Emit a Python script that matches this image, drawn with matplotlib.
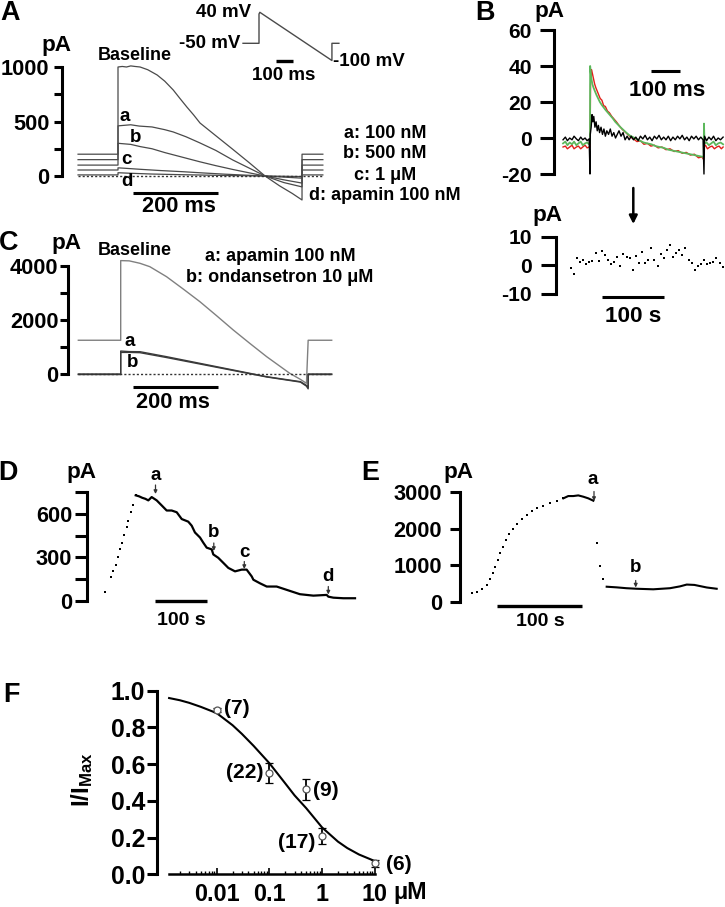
import numpy as np
import matplotlib
matplotlib.use('Agg')
import matplotlib.pyplot as plt
from matplotlib.patches import FancyArrowPatch
from matplotlib.ticker import FormatStrFormatter

plt.rcParams.update({
    'font.family': ['Liberation Sans', 'DejaVu Sans'],
    'font.weight': 'bold',
    'axes.unicode_minus': False,
    'mathtext.fontset': 'custom',
    'mathtext.rm': 'Liberation Sans:bold',
    'mathtext.bf': 'Liberation Sans:bold',
    'mathtext.it': 'Liberation Sans:bold',
})

# ---------------- DATA ----------------
# Panel A: ramp currents (time ms, current pA)
A_BASE = [(-94, 200), (0, 200), (0, 1000), (10, 1005), (20, 1000), (30, 1010), (40, 1005), (52, 1000),
          (70, 975), (92, 927), (110, 870), (130, 789), (145, 715), (162, 633), (178, 560), (193, 486),
          (230, 370), (270, 245), (310, 118), (346, 0), (380, -90), (410, -160), (433, -220),
          (433, 200), (482, 200)]
A_A = [(-94, 150), (0, 150), (0, 460), (15, 465), (30, 470), (50, 458), (80, 450), (110, 425), (130, 404),
       (160, 360), (193, 303), (230, 235), (270, 147), (310, 70), (346, 0), (390, -60), (433, -100),
       (433, 150), (482, 150)]
A_B = [(-94, 100), (0, 100), (0, 300), (15, 295), (30, 290), (52, 270), (80, 250), (110, 215), (150, 174),
       (193, 130), (230, 95), (270, 60), (310, 28), (346, 0), (390, -35), (433, -65), (433, 100), (482, 100)]
A_C = [(-94, 55), (0, 55), (0, 75), (20, 70), (50, 62), (100, 50), (150, 40), (200, 28), (250, 17),
       (300, 8), (346, 0), (390, -10), (433, -20), (433, 55), (482, 55)]
A_D = [(-94, 10), (0, 10), (0, 30), (30, 25), (80, 18), (150, 12), (250, 5), (346, 0), (433, -5),
       (433, 10), (482, 10)]
A_LEGEND = ['a: 100 nM', 'b: 500 nM', 'c: 1 \u03bcM', 'd: apamin 100 nM']
# voltage protocol (ms, mV)
PROTOCOL = [(-94, -50), (0, -50), (0, 35), (5, 40), (429, -100), (429, -50), (470, -50)]

# Panel B: difference currents (ms, pA)
B_RED = [(-93, -5), (-85, -4.5), (-78, -6), (-70, -5), (-62, -4), (-55, -6), (-47, -5), (-40, -4.5),
         (-32, -6), (-25, -5), (-17, -4), (-10, -5.5), (-3, -5), (0, -5), (2, 30), (5, 38), (8, 36),
         (12, 33), (16, 30), (20, 28), (25, 26), (30, 24), (35, 22), (41, 21), (47, 18), (53, 17.5),
         (60, 15), (67, 14), (75, 12), (83, 10.5), (91, 9), (100, 7), (110, 5), (120, 3.5), (130, 2),
         (140, 0.5), (150, -0.5), (162, -2), (174, -1.5), (186, -3.5), (198, -3), (210, -4.5),
         (222, -4), (235, -5.5), (248, -5), (262, -6.5), (276, -6), (290, -7.5), (304, -7),
         (318, -8.5), (332, -8), (346, -9.5), (360, -9), (374, -11), (386, -10.5), (392, -12),
         (393, -5), (398, -4), (405, -6), (413, -5), (421, -4.5), (429, -6), (437, -5), (445, -4.5),
         (453, -6), (459, -5)]
B_GREEN = [(-93, -3), (-85, -2), (-78, -4), (-70, -2.5), (-62, -3.5), (-55, -2), (-47, -4), (-40, -3),
           (-32, -2), (-25, -4), (-17, -3), (-10, -2.5), (-3, -3.5), (0, -3), (0.5, 40), (4, 34),
           (8, 30), (12, 28), (17, 26), (22, 24), (28, 22), (34, 20), (40, 18.5), (47, 17), (54, 15.5),
           (62, 14), (70, 12.5), (78, 11), (87, 9), (96, 7.5), (105, 6), (115, 4.5), (125, 3),
           (136, 1.5), (148, 0.5), (160, -0.5), (172, -1.5), (185, -2.5), (198, -3), (212, -3.5),
           (226, -4.5), (240, -5), (255, -5.5), (270, -6.5), (285, -7), (300, -7.5), (315, -8),
           (330, -8.5), (345, -9), (360, -9.5), (375, -10), (390, -10.5), (392, -10), (393, 8),
           (395, -3), (402, -2.5), (410, -4), (418, -3), (426, -2), (434, -4), (442, -3), (450, -2.5),
           (459, -3.5)]
B_BLACK = [(-93, -1), (-85, 0.5), (-78, -1.5), (-70, 0), (-62, -1), (-55, 1), (-47, -0.5), (-40, -1.5),
           (-32, 0.5), (-25, -1), (-17, 0), (-10, -1.5), (-3, -0.5), (0, -20), (1, 2), (4, 6), (7, 13),
           (10, 9), (13, 12), (17, 6), (21, 9), (25, 4), (29, 7), (33, 3), (38, 6), (43, 2), (48, 5),
           (53, 1), (58, 4), (64, 2), (70, 5), (76, 1), (82, 3), (88, 0), (94, 2), (100, 4), (107, 1),
           (114, 3), (121, -1), (128, 1), (135, -1), (142, 1), (150, -1), (158, 0.5), (166, -1.5),
           (174, 1), (182, -0.5), (190, 1.5), (198, -1), (206, 0.5), (214, -1.5), (222, 1),
           (230, -0.5), (238, 1.5), (246, -1), (254, 0.5), (262, -1), (270, 1), (278, -1.5),
           (286, 0.5), (294, -1), (302, 1), (310, -0.5), (318, 1.5), (326, -1), (334, 0.5),
           (342, -1.5), (350, 1), (358, -0.5), (366, 1), (374, -1), (382, 0.5), (390, -1),
           (393, -20), (395, 1), (402, -1.5), (410, 0.5), (418, -1), (426, 1), (434, -1.5), (442, 0),
           (450, -1), (459, 0.5)]
# Panel B lower: time course (one point per 5 s), pA
B_DOTS = [-1, -3, 2.4, 1.3, 2, 0.3, 1, 1.5, 4.2, 1.5, 5, 3.6, 2, 0.3, 1.1, 3, -0.3, 3.9, 3, 2.4,
          -1.6, 3.2, 0.9, 4.7, 0.7, 2, 5.9, 1.8, -0.3, 3.9, 2.4, 5.3, 7, 2.8, 4.4, 5.3, 3.6, 6.1,
          1.8, 0.7, -1.6, -0.3, 0.3, 1.8, 0.3, 0.7, 1.3, 2.6, 0.9, -0.6]
B_DT = 5

# Panel C (ms, pA)
C_BASE = [(-99, 1250), (0, 1250), (0, 4200), (20, 4190), (45, 4100), (68, 3975), (107, 3605),
          (146, 3148), (185, 2679), (224, 2160), (263, 1630), (302, 1130), (341, 642), (395, 25),
          (420, -200), (434, -345), (438, 1250), (493, 1250)]
C_A = [(-99, 0), (0, 0), (0, 850), (20, 830), (45, 826), (107, 642), (185, 395), (263, 148),
       (341, -99), (420, -284), (434, -420), (438, -500), (438, 0), (493, 0)]
C_B = [(-99, -20), (0, -20), (0, 800), (20, 800), (45, 790), (107, 610), (185, 370), (263, 130),
       (341, -110), (420, -300), (434, -450), (438, -550), (438, -20), (493, -20)]
C_LEGEND = ['a: apamin 100 nM', 'b: ondansetron 10 \u03bcM']

# Panel D time course (s, pA)
D_RISE_T = [0, 11.6, 16, 20.7, 24.6, 29, 32.3, 36.8, 42, 45, 50.3, 54.7, 59.4]
D_RISE_V = [63, 164, 203, 250, 304, 355, 402, 455, 507, 554, 612, 664, 729]
D_DEC_T = [59.4, 66, 72, 78, 83.8, 90.3, 100, 109.7, 119.3, 129, 138.7, 148.4, 161, 167.7, 174,
           183.8, 190, 196.7, 206.4, 209.5, 219, 228.8, 238.5, 251.5, 264.4, 274, 283.8, 287, 300,
           312.8, 332, 351.5, 377, 403, 428.8, 432, 441.6, 461, 483.6]
D_DEC_V = [729, 722, 712, 705, 694, 717, 694, 659, 624, 624, 612, 565, 547, 519, 472, 437, 402, 367,
           355, 320, 297, 262, 227, 203, 215, 215, 168, 145, 120, 98, 98, 75, 45, 35, 40, 28, 21, 17, 17]

# Panel E time course (s, pA)
E_RISE_T = [0, 5.9, 11.8, 17.6, 21.5, 24.7, 27.4, 30.6, 33.3, 36.5, 40.4, 44.2, 48.2, 52.9, 58.8,
            64.7, 70.6, 76.5, 84.2, 92.1, 100, 107.8]
E_RISE_V = [230, 274, 340, 458, 614, 779, 960, 1143, 1326, 1508, 1692, 1856, 1985, 2130, 2259, 2377,
            2486, 2560, 2624, 2697, 2769, 2834]
E_PEAK_T = [107.8, 113.6, 119.5, 125.4, 131.3, 137.2, 143.1]
E_PEAK_V = [2834, 2897, 2897, 2915, 2879, 2834, 2769]
E_DROP_T = [147.8, 150.9, 154.8]
E_DROP_V = [1600, 978, 614]
E_PLAT_T = [158.8, 170.6, 182, 194.1, 213.6, 233.3, 245, 253, 262, 276.5, 288.2]
E_PLAT_V = [411, 393, 370, 355, 340, 370, 420, 470, 460, 390, 355]

# Panel F concentration-response
F_X = [0.01, 0.1, 0.5, 1.0, 10.0]
F_Y = [0.895, 0.553, 0.463, 0.209, 0.06]
F_ERR = [0.012, 0.055, 0.057, 0.045, 0.018]
F_N = ['(7)', '(22)', '(9)', '(17)', '(6)']
FIT_X = [0.00125, 0.002, 0.003, 0.005, 0.01, 0.02, 0.03, 0.05, 0.1, 0.2, 0.3, 0.5, 1, 2, 3, 5, 10]
FIT_Y = [0.960, 0.948, 0.934, 0.912, 0.878, 0.812, 0.765, 0.700, 0.605, 0.495, 0.430, 0.360,
         0.255, 0.178, 0.143, 0.108, 0.072]

# ---------------- FIGURE ----------------
W, H = 725, 907
FS = 1.08  # global font scale
fig = plt.figure(figsize=(W / 100, H / 100), dpi=100)


def px_axes(l, t, r, b, xmap, ymap, xlog=False):
    ax = fig.add_axes([l / W, 1 - b / H, (r - l) / W, (b - t) / H])
    p1, v1, p2, v2 = xmap
    if xlog:
        v1, v2 = np.log10(v1), np.log10(v2)
    sx = (v2 - v1) / (p2 - p1)
    x0, x1 = v1 + (l - p1) * sx, v1 + (r - p1) * sx
    if xlog:
        ax.set_xscale('log')
        x0, x1 = 10 ** x0, 10 ** x1
    ax.set_xlim(x0, x1)
    q1, w1, q2, w2 = ymap
    sy = (w2 - w1) / (q2 - q1)
    ax.set_ylim(w1 + (b - q1) * sy, w1 + (t - q1) * sy)
    ax.set_facecolor('none')
    for s in ax.spines.values():
        s.set_visible(False)
    ax.set_xticks([])
    ax.set_yticks([])
    return ax


def yaxis(ax, lo, hi, major, minor=(), length=6, pad=3, size=14, lw=2.2):
    sp = ax.spines['left']
    sp.set_visible(True)
    sp.set_bounds(lo, hi)
    sp.set_linewidth(lw)
    ax.set_yticks(major)
    ax.set_yticks(list(minor), minor=True)
    ax.tick_params(axis='y', which='both', length=length, width=lw, pad=pad,
                   labelsize=size * FS, direction='out')


def ftext(x, y, s, size, ha='center', va='center', **kw):
    fig.text(x / W, 1 - y / H, s, fontsize=size * FS, ha=ha, va=va, fontweight='bold', **kw)


def farrow(x, y0, y1, lw=1.0, ms=6, color='black'):
    fig.add_artist(FancyArrowPatch((x / W, 1 - y0 / H), (x / W, 1 - y1 / H),
                                   transform=fig.transFigure, arrowstyle='-|>',
                                   mutation_scale=ms, lw=lw, color=color,
                                   shrinkA=0, shrinkB=0))


def xy(pairs):
    a = np.array(pairs, dtype=float)
    return a[:, 0], a[:, 1]


def bar(ax, x0, x1, y, lw=2.2):
    ax.plot([x0, x1], [y, y], color='black', lw=lw, solid_capstyle='butt', clip_on=False)


# ---- Panel A ----
axA = px_axes(62, 58, 335, 215, (118, 0, 160.5, 100), (176, 0, 67, 1000))
yaxis(axA, 0, 1000, [0, 500, 1000], [250, 750], length=5.5, pad=3.5, size=14.5)
for tr in (A_BASE, A_A, A_B, A_C, A_D):
    t, v = xy(tr)
    axA.plot(t, v, color='#4a4a4a', lw=0.9)
axA.plot([A_BASE[0][0], A_BASE[-1][0]], [0, 0], color='#333333', lw=1.0, ls=(0, (1.5, 1.5)))
bar(axA, 35, 235, -159, lw=2.2)
ftext(10, 0, 'A', 18, va='top')
ftext(56, 45, 'pA', 15)
ftext(135, 56, 'Baseline', 12)
for lab, (x, y) in zip('abcd', [(125, 116.7), (136, 137.5), (126.7, 160), (126.7, 181)]):
    ftext(x, y, lab, 12.5)
for lab, y in zip(A_LEGEND, [133, 154, 175, 195]):
    ftext(385, y, lab, 12)
ftext(179, 206, '200 ms', 14.5)

axP = px_axes(235, 2, 345, 70, (259, 0, 276, 100), (43.3, -50, 12.3, 40))
t, v = xy(PROTOCOL)
axP.plot(t, v, color='#4a4a4a', lw=1.0)
axP.plot([100, 200], [-101.5, -101.5], color='black', lw=2.4, solid_capstyle='butt')
ftext(251, 12.5, '40 mV', 12.5, ha='right')
ftext(240, 43.5, '-50 mV', 12.5, ha='right')
ftext(333, 62, '-100 mV', 12.5, ha='left')
ftext(284, 75, '100 ms', 12.5)

# ---- Panel B ----
axB = px_axes(554.3, 25, 725, 180, (590, 0, 619, 100), (138, 0, 102, 20))
yaxis(axB, -20, 60, [-20, 0, 20, 40, 60], length=10, pad=6, size=14)
t, v = xy(B_RED)
axB.plot(t, v, color='#e0201a', lw=1.0)
t, v = xy(B_GREEN)
axB.plot(t, v, color='#5cb85c', lw=1.3)
t, v = xy(B_BLACK)
axB.plot(t, v, color='black', lw=1.0)
bar(axB, (651 - 590) / 0.29, (680 - 590) / 0.29, (138 - 70.7) / 1.8, lw=2.2)
ftext(485, 0, 'B', 18, va='top')
ftext(549, 12, 'pA', 15)
ftext(666.7, 90, '100 ms', 15)
farrow(633.3, 188, 224, lw=1.8, ms=12)

axB2 = px_axes(555.7, 228, 725, 305, (570.7, 0, 632.7, 100), (265.3, 0, 236.7, 10))
yaxis(axB2, -10, 10, [-10, 0, 10], length=10.5, pad=6.5, size=14)
axB2.plot(np.arange(len(B_DOTS)) * B_DT, B_DOTS, 's', color='black', ms=1.6, mew=0)
bar(axB2, 50, 150.5, -11, lw=2.2)
ftext(547.7, 215, 'pA', 15)
ftext(633, 317, '100 s', 15)

# ---- Panel C ----
axC = px_axes(68, 250, 340, 395, (120.7, 0, 163.5, 100), (374, 0, 266, 4000))
yaxis(axC, 0, 4000, [0, 2000, 4000], [1000, 3000], length=6, pad=1, size=14.5)
t, v = xy(C_BASE)
axC.plot(t, v, color='#808080', lw=1.0)
t, v = xy(C_B)
axC.plot(t, v, color='#3a3a3a', lw=1.0)
t, v = xy(C_A)
axC.plot(t, v, color='#3a3a3a', lw=1.0)
axC.plot([C_BASE[0][0], C_BASE[-1][0]], [0, 0], color='#333333', lw=1.0, ls=(0, (1.5, 1.5)))
bar(axC, 28, 228, -470, lw=2.2)
ftext(9, 243, 'C', 18)
ftext(66, 243, 'pA', 15)
ftext(135, 250, 'Baseline', 12)
ftext(129.5, 341.7, 'a', 12.5)
ftext(132.7, 363, 'b', 12.5)
for lab, y in zip(C_LEGEND, [256.7, 277.3]):
    ftext(280, y, lab, 12)
ftext(172.5, 402.5, '200 ms', 14.5)

# ---- Panel D ----
axD = px_axes(87.3, 485, 365, 610, (105, 0, 156.7, 100), (600.7, 0, 492.3, 750))
yaxis(axD, 0, 750, [0, 300, 600], [150, 450, 750], length=8.5, pad=2.5, size=14.5)
axD.plot(D_RISE_T, D_RISE_V, 's', color='black', ms=2.0, mew=0)
axD.plot(D_DEC_T, D_DEC_V, '-', color='black', lw=1.6)
bar(axD, 96.7, 196.7, 0, lw=2.4)
ftext(8, 473, 'D', 18)
ftext(81.7, 473, 'pA', 15)
ftext(181, 620.7, '100 s', 13)
for lab, x, yl, y0, y1 in [('a', 155.5, 475, 485, 494), ('b', 213.8, 532.5, 543, 551),
                           ('c', 244.3, 552.7, 561.5, 569), ('d', 328.3, 576.7, 586.5, 594.5)]:
    ftext(x, yl, lab, 12.5)
    farrow(x, y0, y1, lw=0.9, ms=5, color='#333333')

# ---- Panel E ----
axE = px_axes(460, 485, 725, 612, (471.7, 0, 556.7, 100), (601.7, 0, 492.3, 3000))
yaxis(axE, 0, 3000, [0, 1000, 2000, 3000], length=7, pad=6, size=14.5)
axE.plot(E_RISE_T, E_RISE_V, 's', color='black', ms=1.9, mew=0)
axE.plot(E_PEAK_T, E_PEAK_V, '-', color='black', lw=1.5)
axE.plot(E_DROP_T, E_DROP_V, 's', color='black', ms=2.0, mew=0)
axE.plot(E_PLAT_T, E_PLAT_V, '-', color='black', lw=1.5)
bar(axE, 30.1, 130.1, -110, lw=2.4)
ftext(370, 473, 'E', 18)
ftext(458.3, 473, 'pA', 15)
ftext(540, 621, '100 s', 13)
ftext(593, 479, 'a', 12.5)
farrow(594, 491.5, 501, lw=0.9, ms=5, color='#333333')
ftext(636, 568, 'b', 12.5)
farrow(635.7, 580.5, 587.5, lw=0.9, ms=5, color='#333333')

# ---- Panel F ----
axF = px_axes(156.7, 680, 440, 900, (216.7, 0.01, 269.4, 0.1), (874.3, 0, 690.7, 1.0), xlog=True)
yaxis(axF, 0, 1.0, [0, 0.2, 0.4, 0.6, 0.8, 1.0], length=7, pad=1.5, size=16.5)
axF.yaxis.set_major_formatter(FormatStrFormatter('%.1f'))
sb = axF.spines['bottom']
sb.set_visible(True)
sb.set_position(('data', 0))
sb.set_bounds(FIT_X[0], F_X[-1])
sb.set_linewidth(1.8)
axF.set_xticks([0.01, 0.1, 1, 10])
axF.set_xticklabels(['0.01', '0.1', '1', '10'])
axF.set_xticks([m * d for d in (0.001, 0.01, 0.1, 1) for m in range(2, 10)
                if FIT_X[0] <= m * d <= 10], minor=True)
axF.xaxis.set_minor_formatter(plt.NullFormatter())
axF.tick_params(axis='x', which='major', direction='in', length=4, width=1.2, pad=6,
                labelsize=15.5 * FS)
axF.tick_params(axis='x', which='minor', direction='in', length=2.5, width=1.0)
axF.plot(FIT_X, FIT_Y, color='black', lw=1.5)
axF.errorbar(F_X, F_Y, yerr=F_ERR, fmt='o', mfc='white', mec='#555555', mew=0.9, ms=5,
             ecolor='black', elinewidth=1.3, capsize=3, capthick=1.3, zorder=3)
for lab, (x, y, ha) in zip(F_N, [(224, 708, 'left'), (263.5, 773, 'right'), (313.5, 790, 'left'),
                                 (315, 842, 'right'), (386, 865, 'left')]):
    ftext(x, y, lab, 14, ha=ha)
ftext(3, 695, 'F', 18, ha='left')
ftext(410, 892, '\u03bcM', 15.5)
ftext(81.7, 780, r'$\mathbf{I/I}_{\mathbf{Max}}$', 16, rotation=90)

fig.savefig('out.png', dpi=100)
